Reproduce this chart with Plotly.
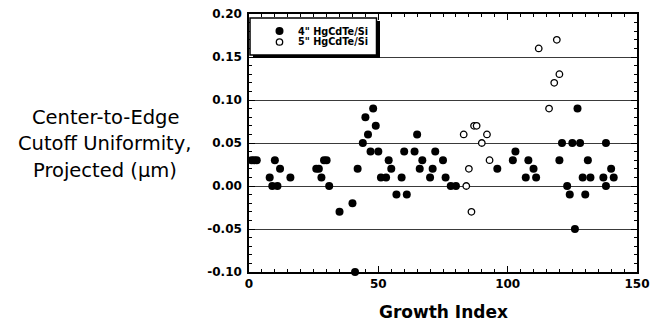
import plotly.graph_objects as go

# 4" HgCdTe/Si (filled)
x4 = [1, 2, 3, 8, 9, 10, 11, 12, 16, 26, 27, 28, 29, 30, 31, 35, 40, 41, 42, 44, 45, 46,
      47, 48, 49, 50, 51, 53, 54, 55, 57, 59, 60, 61, 64, 65, 66, 67, 70, 71, 72, 75, 76,
      78, 80, 96, 102, 103, 107, 108, 110, 111, 120, 121, 123, 124, 125, 126, 127, 128,
      129, 130, 131, 132, 137, 138, 138, 140, 141]
y4 = [0.03, 0.03, 0.03, 0.01, 0.00, 0.03, 0.00, 0.02, 0.01, 0.02, 0.02, 0.01, 0.03, 0.03,
      0.00, -0.03, -0.02, -0.10, 0.02, 0.05, 0.08, 0.06, 0.04, 0.09, 0.07, 0.04, 0.01,
      0.01, 0.03, 0.02, -0.01, 0.01, 0.04, -0.01, 0.04, 0.06, 0.02, 0.03, 0.01, 0.02, 0.04,
      0.03, 0.01, 0.00, 0.00, 0.02, 0.03, 0.04, 0.01, 0.03, 0.02, 0.01, 0.03, 0.05, 0.00,
      -0.01, 0.05, -0.05, 0.09, 0.05, 0.01, -0.01, 0.03, 0.01, 0.01, 0.05, 0.00, 0.02, 0.01]

# 5" HgCdTe/Si (open)
x5 = [83, 84, 85, 86, 87, 88, 90, 92, 93, 112, 116, 118, 119, 120]
y5 = [0.06, 0.00, 0.02, -0.03, 0.07, 0.07, 0.05, 0.06, 0.03, 0.16, 0.09, 0.12, 0.17, 0.13]

series_names = ['4" HgCdTe/Si', '5" HgCdTe/Si']
ytick_vals = [-0.10, -0.05, 0.00, 0.05, 0.10, 0.15, 0.20]
ytick_text = ["-0.10", "-0.05", "0.00", "0.05", "0.10", "0.15", "0.20"]
xtick_vals = [0, 50, 100, 150]
xtick_text = ["0", "50", "100", "150"]
y_title_lines = ["Center-to-Edge", "Cutoff Uniformity,", "Projected (µm)"]
x_title = "Growth Index"

FONT = "DejaVu Sans, Liberation Sans, Arial, sans-serif"

fig = go.Figure()
fig.add_trace(go.Scatter(
    x=x4, y=y4, mode="markers", name=series_names[0],
    marker=dict(symbol="circle", size=8, color="black", line=dict(width=0)),
    cliponaxis=False, showlegend=False))
fig.add_trace(go.Scatter(
    x=x5, y=y5, mode="markers", name=series_names[1],
    marker=dict(symbol="circle", size=6.5, color="white", line=dict(width=1.3, color="black")),
    cliponaxis=False, showlegend=False))

L, R, T, B = 249, 637, 14, 272
W, H = 651, 326

def px(xp):
    return (xp - L) / (R - L)

def py(yp):
    return (B - yp) / (B - T)

shapes = []
# legend shadow + box
shapes.append(dict(type="rect", xref="paper", yref="paper",
                   x0=px(253), x1=px(380), y0=py(58), y1=py(21),
                   fillcolor="black", line=dict(width=0), layer="above"))
shapes.append(dict(type="rect", xref="paper", yref="paper",
                   x0=px(250), x1=px(376.5), y0=py(55), y1=py(18),
                   fillcolor="white", line=dict(width=1.5, color="black"), layer="above"))
# legend symbols
shapes.append(dict(type="circle", xref="paper", yref="paper",
                   xsizemode="pixel", ysizemode="pixel",
                   xanchor=px(279.5), yanchor=py(31), x0=-4, x1=4, y0=-4, y1=4,
                   fillcolor="black", line=dict(width=0), layer="above"))
shapes.append(dict(type="circle", xref="paper", yref="paper",
                   xsizemode="pixel", ysizemode="pixel",
                   xanchor=px(279.5), yanchor=py(42), x0=-3.2, x1=3.2, y0=-3.2, y1=3.2,
                   fillcolor="white", line=dict(width=1.3, color="black"), layer="above"))

annotations = []
for i, (name, yy) in enumerate(zip(series_names, [31, 42])):
    annotations.append(dict(text=name, xref="paper", yref="paper", x=px(296), y=py(yy),
                            xanchor="left", yanchor="middle", showarrow=False,
                            font=dict(family=FONT, size=9.7, weight="bold", color="black")))
for line, yy in zip(y_title_lines, [117, 143.5, 170]):
    annotations.append(dict(text=line, xref="paper", yref="paper", x=px(105), y=py(yy),
                            xanchor="center", yanchor="middle", showarrow=False,
                            font=dict(family=FONT, size=19.5, color="black")))
annotations.append(dict(text=x_title, xref="paper", yref="paper", x=px(443), y=py(312),
                        xanchor="center", yanchor="middle", showarrow=False,
                        font=dict(family=FONT, size=17, weight="bold", color="black")))

fig.update_layout(
    width=W, height=H,
    margin=dict(l=L, r=W - R, t=T, b=H - B, autoexpand=False),
    paper_bgcolor="white", plot_bgcolor="white",
    font=dict(family=FONT, color="black"),
    showlegend=False,
    xaxis=dict(range=[0, 150], tickvals=xtick_vals, ticktext=xtick_text, automargin=False,
               showgrid=False, zeroline=False,
               showline=True, linecolor="black", linewidth=1.5, mirror="ticks",
               ticks="inside", ticklen=6, tickwidth=1.2, tickcolor="black",
               minor=dict(dtick=5, ticks="inside", ticklen=3, tickwidth=1, tickcolor="black"),
               tickfont=dict(family=FONT, size=12, weight="bold")),
    yaxis=dict(range=[-0.10, 0.20], tickvals=ytick_vals, ticktext=ytick_text, automargin=False,
               showgrid=True, gridcolor="#3a3a3a", gridwidth=1.1, zeroline=False,
               showline=True, linecolor="black", linewidth=1.5, mirror="ticks",
               ticks="inside", ticklen=6, tickwidth=1.2, tickcolor="black",
               minor=dict(dtick=0.01, ticks="inside", ticklen=3, tickwidth=1, tickcolor="black",
                          showgrid=False),
               tickfont=dict(family=FONT, size=12, weight="bold"),
               ticklabelstandoff=3),
    shapes=shapes,
    annotations=annotations,
)

fig.write_html("out.html")
